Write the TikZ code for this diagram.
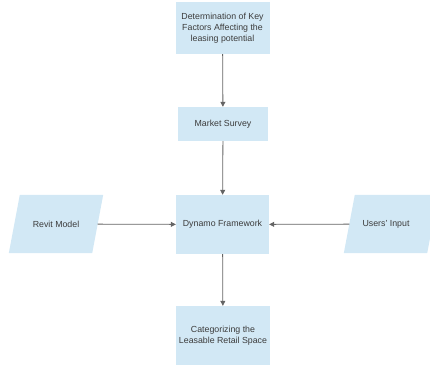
\documentclass[tikz,border=0pt]{standalone}
\usepackage{fontspec}
\setmainfont{Liberation Sans}
\usetikzlibrary{arrows.meta,backgrounds}

\definecolor{boxfill}{RGB}{210,232,245}
\definecolor{linegray}{RGB}{100,100,100}
\definecolor{textgray}{RGB}{60,60,60}

% slanted fill behind an input node
\newcommand\ioslant[1]{%
  \begin{scope}[on background layer]
    \fill[boxfill] ([xshift=-5.5pt]#1.south west) -- ([xshift=-5.5pt]#1.south east)
      -- ([xshift=5.5pt]#1.north east) -- ([xshift=5.5pt]#1.north west) -- cycle;
  \end{scope}}

\begin{document}
\begin{tikzpicture}[x=1pt,y=-1pt,
    every node/.style={font=\fontsize{8.8}{11}\selectfont,text=textgray,align=center,inner sep=0pt},
    procbox/.style={rectangle,fill=boxfill,minimum width=94pt,minimum height=59pt},
    iobox/.style={rectangle,minimum width=83pt,minimum height=58pt},
    flow/.style={draw=linegray,line width=0.8pt,-{Triangle[length=5pt,width=5pt]}}]
    \useasboundingbox (0,0) rectangle (430,365);
    % main column
    \node[procbox,minimum height=52pt] (keys) at (222.5,28) {Determination of Key\\Factors Affecting the\\leasing potential};
    \node[procbox,minimum width=90pt,minimum height=34pt] (survey) at (223,124) {Market Survey};
    \node[procbox,minimum width=93pt] (dynamo) at (222.5,224.5) {Dynamo Framework};
    \node[procbox] (categ) at (223,335.5) {Categorizing the\\Leasable Retail Space};
    % inputs
    \node[iobox] (revit) at (56,224) {Revit Model};
    \node[iobox] (users) at (391,224) {Users' Input\hspace*{10pt}};
    \ioslant{revit}
    \ioslant{users}
    % connectors
    \draw[flow] (keys) -- (survey);
    \draw[flow] (survey) -- (dynamo);
    \draw[flow] (dynamo) -- (categ);
    \draw[flow] (revit) -- (dynamo);
    \draw[flow] (users) -- (dynamo);
\end{tikzpicture}
\end{document}
